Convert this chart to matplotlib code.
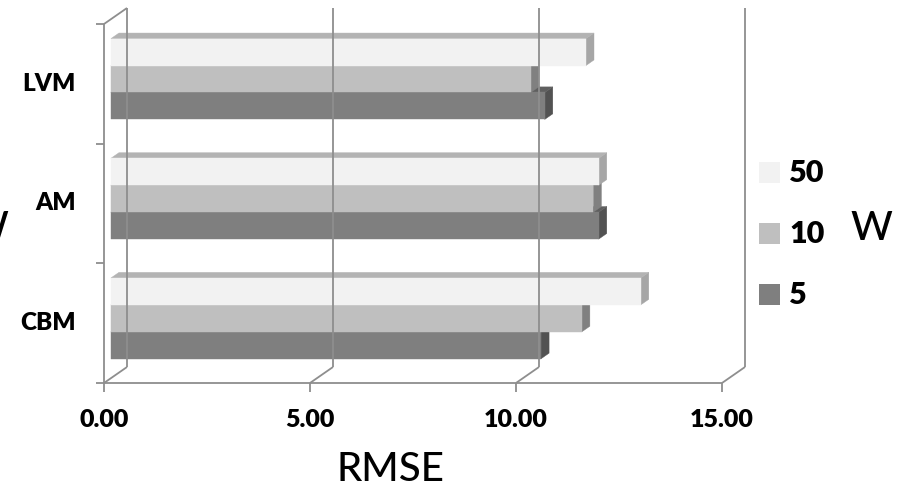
import matplotlib
matplotlib.use("Agg")
import matplotlib.pyplot as plt
from matplotlib.patches import Polygon

# Data
categories = ["CBM", "AM", "LVM"]
series_labels = ["5", "10", "50"]
rmse_w5 = [10.44, 11.84, 10.53]
rmse_w10 = [11.43, 11.71, 10.19]
rmse_w50 = [12.86, 11.84, 11.53]
x_ticks = [0, 5, 10, 15]
x_tick_labels = ["0.00", "5.00", "10.00", "15.00"]

series_values = [rmse_w5, rmse_w10, rmse_w50]
front_colors = ["#7f7f7f", "#bfbfbf", "#f2f2f2"]
top_colors = ["#5f5f5f", "#8f8f8f", "#b3b3b3"]
side_colors = ["#525252", "#808080", "#a6a6a6"]
line_color = "#8e8e8e"

plt.rcParams["font.family"] = ["Lato", "DejaVu Sans"]

W, H, DPI = 902, 490, 100
fig = plt.figure(figsize=(W / DPI, H / DPI), dpi=DPI)
fig.patch.set_facecolor("white")

# Front plane of the 3D box in pixels
ax_left, ax_right = 104, 722
ax_top, ax_bottom = 24, 383          # image rows
ax = fig.add_axes([ax_left / W, (H - ax_bottom) / H,
                   (ax_right - ax_left) / W, (ax_bottom - ax_top) / H])
xmin, xmax = 0, 15
ymin, ymax = -0.5, 2.5
ax.set_xlim(xmin, xmax)
ax.set_ylim(ymin, ymax)
ax.axis("off")

# pixel -> data unit conversion
px_x = (xmax - xmin) / (ax_right - ax_left)
px_y = (ymax - ymin) / (ax_bottom - ax_top)

# full depth of the box (front plane -> back wall), in pixels
DEPTH_PX = (23, 16)


def proj(x, y, d):
    """Project a point at depth d (0 = front, 1 = back wall) to data space."""
    return (x + d * DEPTH_PX[0] * px_x, y + d * DEPTH_PX[1] * px_y)


def seg(p, q, **kw):
    ax.plot([p[0], q[0]], [p[1], q[1]], color=line_color, lw=1.3,
            solid_capstyle="butt", clip_on=False, **kw)


# Back wall gridlines
for t in x_ticks:
    seg(proj(t, ymin, 1), proj(t, ymax, 1))

# Left wall
seg(proj(0, ymin, 0), proj(0, ymax, 0))
seg(proj(0, ymax, 0), proj(0, ymax, 1))
# Floor
seg(proj(xmin, ymin, 0), proj(xmax, ymin, 0))
for t in x_ticks:
    seg(proj(t, ymin, 0), proj(t, ymin, 1))

# Tick marks
for b in [-0.5, 0.5, 1.5, 2.5]:
    seg((0, b), (-8 * px_x, b))
for t in x_ticks:
    seg((t, ymin), (t, ymin - 9 * px_y))

# Bars
bar_h = 0.225
d_front, d_back = 0.30, 0.65
offsets = [-bar_h, 0.0, bar_h]
for ci in range(len(categories)):
    for si in range(len(series_values)):
        v = series_values[si][ci]
        yc = ci + offsets[si]
        y0, y1 = yc - bar_h / 2, yc + bar_h / 2
        f00 = proj(0, y0, d_front); f10 = proj(v, y0, d_front)
        f11 = proj(v, y1, d_front); f01 = proj(0, y1, d_front)
        b10 = proj(v, y0, d_back); b11 = proj(v, y1, d_back)
        b01 = proj(0, y1, d_back)
        side = Polygon([f10, b10, b11, f11], closed=True,
                       facecolor=side_colors[si], edgecolor=side_colors[si],
                       lw=0.3, clip_on=False)
        top = Polygon([f01, f11, b11, b01], closed=True,
                      facecolor=top_colors[si], edgecolor=top_colors[si],
                      lw=0.3, clip_on=False)
        front = Polygon([f00, f10, f11, f01], closed=True,
                        facecolor=front_colors[si], edgecolor=front_colors[si],
                        lw=0.3, clip_on=False)
        ax.add_patch(side)
        ax.add_patch(top)
        ax.add_patch(front)

# Category labels
for ci, name in enumerate(categories):
    ax.text(-28 * px_x, ci, name, ha="right", va="center",
            fontsize=17.5, fontweight="heavy", color="black", clip_on=False)

# Value axis labels
for t, lab in zip(x_ticks, x_tick_labels):
    ax.text(t, ymin - 37 * px_y, lab, ha="center", va="center",
            fontsize=18, fontweight="heavy", color="black", clip_on=False)

fig.text(391 / W, 1 - 469 / H, "RMSE", ha="center", va="center",
         fontsize=29, fontweight="medium", color="black")

# Legend
sq = 21
leg_x = 759
leg_rows = [(172, 2), (233, 1), (294, 0)]
for yc, si in leg_rows:
    lax = fig.add_axes([leg_x / W, 1 - (yc + sq / 2) / H, sq / W, sq / H])
    lax.set_xlim(0, 1); lax.set_ylim(0, 1); lax.axis("off")
    lax.bar([0.5], [1], width=1, color=front_colors[si])
    fig.text(789 / W, 1 - (yc + 1) / H, series_labels[si], ha="left",
             va="center", fontsize=22, fontweight="heavy", color="black")
fig.text(871 / W, 1 - 228 / H, "W", ha="center", va="center",
         fontsize=29, fontweight="medium", color="black")

# Axis title on the left edge
fig.text(8 / W, 1 - 228 / H, "W", ha="right", va="center",
         fontsize=29, fontweight="medium", color="black")

fig.savefig("out.png", dpi=DPI, facecolor="white")
